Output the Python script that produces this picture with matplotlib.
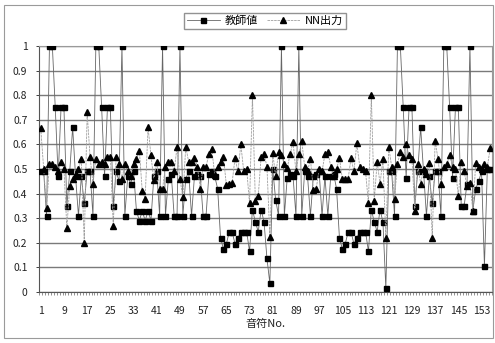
"""Teacher values vs NN output per note (line chart with markers)."""

import matplotlib

matplotlib.use("Agg")
import matplotlib.pyplot as plt
import numpy as np
from matplotlib.patches import Rectangle

plt.rcParams["font.family"] = ["Noto Sans CJK JP", "DejaVu Sans"]

# data
teacher = [
    0.49, 0.49, 0.31, 1.0, 1.0, 0.75, 0.47, 0.75, 0.75, 0.35,
    0.49, 0.67, 0.47, 0.31, 0.47, 0.36, 0.49, 0.49, 0.31, 1.0,
    1.0, 0.75, 0.47, 0.75, 0.75, 0.35, 0.49, 0.45, 1.0, 0.31,
    0.47, 0.44, 0.49, 0.33, 0.29, 0.33, 0.29, 0.33, 0.29, 0.47,
    0.49, 0.31, 1.0, 0.31, 0.46, 0.48, 0.31, 0.31, 1.0, 0.31,
    0.46, 0.49, 0.31, 0.47, 0.48, 0.47, 0.31, 0.31, 0.48, 0.49,
    0.47, 0.42, 0.22, 0.175, 0.195, 0.245, 0.245, 0.195, 0.22, 0.245,
    0.245, 0.245, 0.165, 0.335, 0.285, 0.245, 0.335, 0.285, 0.137, 0.035,
    0.50, 0.375, 0.31, 1.0, 0.31, 0.465, 0.48, 0.47, 0.31, 1.0,
    0.31, 0.49, 0.47, 0.31, 0.47, 0.48, 0.49, 0.31, 0.47, 0.31,
    0.47, 0.48, 0.42, 0.22, 0.175, 0.195, 0.245, 0.245, 0.195, 0.22,
    0.245, 0.245, 0.245, 0.165, 0.335, 0.285, 0.245, 0.335, 0.285, 0.015,
    0.49, 0.49, 0.31, 1.0, 1.0, 0.75, 0.465, 0.75, 0.75, 0.35,
    0.49, 0.67, 0.49, 0.31, 0.47, 0.36, 0.49, 0.49, 0.31, 1.0,
    1.0, 0.75, 0.465, 0.75, 0.75, 0.35, 0.35, 0.44, 1.0, 0.33,
    0.42, 0.45, 0.49, 0.105, 0.50, 0.50,
]
nn_output = [
    0.665, 0.50, 0.34, 0.52, 0.52, 0.51, 0.49, 0.53, 0.50, 0.26,
    0.43, 0.46, 0.48, 0.50, 0.54, 0.20, 0.73, 0.55, 0.44, 0.54,
    0.52, 0.53, 0.52, 0.55, 0.55, 0.27, 0.55, 0.52, 0.46, 0.52,
    0.49, 0.47, 0.52, 0.54, 0.575, 0.41, 0.38, 0.67, 0.555, 0.455,
    0.53, 0.42, 0.42, 0.51, 0.53, 0.53, 0.49, 0.59, 0.46, 0.385,
    0.59, 0.53, 0.53, 0.545, 0.51, 0.42, 0.51, 0.51, 0.56, 0.58,
    0.475, 0.51, 0.53, 0.55, 0.435, 0.44, 0.445, 0.545, 0.49, 0.60,
    0.49, 0.50, 0.36, 0.80, 0.37, 0.39, 0.55, 0.56, 0.51, 0.225,
    0.565, 0.47, 0.57, 0.555, 0.52, 0.505, 0.56, 0.61, 0.49, 0.56,
    0.615, 0.51, 0.49, 0.54, 0.415, 0.42, 0.50, 0.49, 0.56, 0.57,
    0.51, 0.47, 0.50, 0.545, 0.46, 0.46, 0.46, 0.545, 0.49, 0.605,
    0.51, 0.50, 0.49, 0.36, 0.80, 0.37, 0.53, 0.44, 0.54, 0.22,
    0.59, 0.51, 0.38, 0.52, 0.57, 0.55, 0.60, 0.555, 0.54, 0.33,
    0.52, 0.44, 0.50, 0.48, 0.525, 0.22, 0.615, 0.54, 0.44, 0.51,
    0.52, 0.555, 0.51, 0.50, 0.39, 0.53, 0.49, 0.43, 0.445, 0.33,
    0.525, 0.51, 0.50, 0.52, 0.51, 0.585,
]
note_no = np.arange(1, len(teacher) + 1)
x_tick_labels = [1, 9, 17, 25, 33, 41, 49, 57, 65, 73, 81, 89, 97, 105, 113, 121, 129, 137, 145, 153]
y_ticks = [0, 0.1, 0.2, 0.3, 0.4, 0.5, 0.6, 0.7, 0.8, 0.9, 1]

fig = plt.figure(figsize=(4.95, 3.43), dpi=100)
ax = fig.add_axes([0.0794, 0.1487, 0.9139, 0.7172])

# outer chart frame
fig.patches.append(
    Rectangle((0.008, 0.015), 0.988, 0.97, transform=fig.transFigure,
              fill=False, edgecolor="#9a9a9a", linewidth=0.8)
)

ax.plot(note_no, teacher, color="#666666", linewidth=0.6, marker="s",
        markersize=3.6, markerfacecolor="black", markeredgecolor="black",
        label="教師値", zorder=3)
ax.plot(note_no, nn_output, color="#a0a0a0", linewidth=0.6, dashes=(3, 1),
        marker="^", markersize=3.8, markerfacecolor="black",
        markeredgecolor="black", label="NN出力", zorder=4)

ax.set_xlim(0.5, len(teacher) + 0.5)
ax.set_ylim(0, 1)
ax.set_yticks(y_ticks)
ax.set_yticklabels([f"{v:g}" for v in y_ticks])
ax.set_xticks(x_tick_labels)
ax.set_xticklabels([str(v) for v in x_tick_labels])
ax.set_xticks(np.arange(0.5, len(teacher) + 1, 1), minor=True)
ax.tick_params(axis="x", which="major", length=0, pad=10, labelsize=7.5,
               colors="#222222")
ax.tick_params(axis="x", which="minor", length=2.5, width=0.5, color="#666666")
ax.tick_params(axis="y", which="major", length=2.5, width=0.6, pad=6,
               labelsize=7.5, colors="#222222")

ax.yaxis.grid(True, color="#7a7a7a", linewidth=1.0)
ax.set_axisbelow(True)
for side, spine in ax.spines.items():
    spine.set_color("#555555" if side in ("left", "bottom") else "#9a9a9a")
    spine.set_linewidth(0.8)

ax.set_xlabel("音符No.", fontsize=8, labelpad=2, color="#222222")

fig.legend(loc="center", bbox_to_anchor=(0.535, 0.939), ncol=2, fontsize=8,
           frameon=True, fancybox=False, edgecolor="#777777",
           handlelength=3.0, handletextpad=0.4, columnspacing=0.8,
           borderpad=0.25)

fig.savefig("out.png", dpi=100)
